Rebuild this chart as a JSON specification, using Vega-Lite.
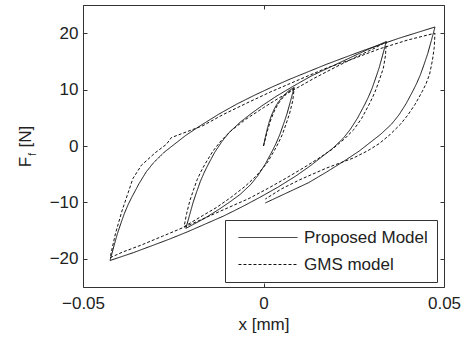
{
 "$schema": "https://vega.github.io/schema/vega-lite/v6.json",
 "width": 361, "height": 282,
 "autosize": "none",
 "padding": {"left": 83, "top": 5, "right": 23, "bottom": 53},
 "config": {
   "font": "Liberation Sans",
   "view": {"stroke": "#333", "strokeWidth": 1},
   "axis": {"grid": false, "domain": false, "tickSize": -4, "tickColor": "#333", "labelFlush": false, "labelOverlap": false, "labelFont": "Liberation Sans", "labelFontSize": 17, "labelColor": "#222", "titleFont": "Liberation Sans", "titleFontSize": 17, "titleFontWeight": "normal", "titleColor": "#222"}
 },
 "data": {"values": [
  {"m":"Proposed Model","i":0,"x":0,"y":0},
  {"m":"Proposed Model","i":1,"x":0.0005,"y":1.5},
  {"m":"Proposed Model","i":2,"x":0.001,"y":2.9},
  {"m":"Proposed Model","i":3,"x":0.0015,"y":4.1},
  {"m":"Proposed Model","i":4,"x":0.002,"y":5.1},
  {"m":"Proposed Model","i":5,"x":0.003,"y":6.6},
  {"m":"Proposed Model","i":6,"x":0.004,"y":7.7},
  {"m":"Proposed Model","i":7,"x":0.005,"y":8.5},
  {"m":"Proposed Model","i":8,"x":0.006,"y":9.2},
  {"m":"Proposed Model","i":9,"x":0.007,"y":9.8},
  {"m":"Proposed Model","i":10,"x":0.0085,"y":10.4},
  {"m":"Proposed Model","i":11,"x":0.0075,"y":8.0},
  {"m":"Proposed Model","i":12,"x":0.0065,"y":5.7},
  {"m":"Proposed Model","i":13,"x":0.0055,"y":3.8},
  {"m":"Proposed Model","i":14,"x":0.0045,"y":2.0},
  {"m":"Proposed Model","i":15,"x":0.0035,"y":0.5},
  {"m":"Proposed Model","i":16,"x":0.0025,"y":-0.8},
  {"m":"Proposed Model","i":17,"x":0.0005,"y":-3.2},
  {"m":"Proposed Model","i":18,"x":-0.0015,"y":-5.2},
  {"m":"Proposed Model","i":19,"x":-0.0035,"y":-6.8},
  {"m":"Proposed Model","i":20,"x":-0.0065,"y":-8.6},
  {"m":"Proposed Model","i":21,"x":-0.0095,"y":-10.0},
  {"m":"Proposed Model","i":22,"x":-0.0125,"y":-11.3},
  {"m":"Proposed Model","i":23,"x":-0.0165,"y":-12.9},
  {"m":"Proposed Model","i":24,"x":-0.0215,"y":-14.6},
  {"m":"Proposed Model","i":25,"x":-0.0205,"y":-12.3},
  {"m":"Proposed Model","i":26,"x":-0.0195,"y":-10.0},
  {"m":"Proposed Model","i":27,"x":-0.0185,"y":-8.1},
  {"m":"Proposed Model","i":28,"x":-0.0175,"y":-6.3},
  {"m":"Proposed Model","i":29,"x":-0.0165,"y":-4.8},
  {"m":"Proposed Model","i":30,"x":-0.0155,"y":-3.5},
  {"m":"Proposed Model","i":31,"x":-0.0135,"y":-1.1},
  {"m":"Proposed Model","i":32,"x":-0.0115,"y":0.8},
  {"m":"Proposed Model","i":33,"x":-0.0095,"y":2.4},
  {"m":"Proposed Model","i":34,"x":-0.0065,"y":4.2},
  {"m":"Proposed Model","i":35,"x":-0.0035,"y":5.7},
  {"m":"Proposed Model","i":36,"x":-0.0005,"y":7.1},
  {"m":"Proposed Model","i":37,"x":0.0035,"y":8.8},
  {"m":"Proposed Model","i":38,"x":0.0085,"y":10.7},
  {"m":"Proposed Model","i":39,"x":0.0135,"y":12.5},
  {"m":"Proposed Model","i":40,"x":0.0185,"y":14.0},
  {"m":"Proposed Model","i":41,"x":0.0235,"y":15.5},
  {"m":"Proposed Model","i":42,"x":0.0285,"y":17.0},
  {"m":"Proposed Model","i":43,"x":0.034,"y":18.5},
  {"m":"Proposed Model","i":44,"x":0.033,"y":16.1},
  {"m":"Proposed Model","i":45,"x":0.032,"y":13.8},
  {"m":"Proposed Model","i":46,"x":0.031,"y":11.9},
  {"m":"Proposed Model","i":47,"x":0.030,"y":10.1},
  {"m":"Proposed Model","i":48,"x":0.029,"y":8.6},
  {"m":"Proposed Model","i":49,"x":0.028,"y":7.3},
  {"m":"Proposed Model","i":50,"x":0.026,"y":4.9},
  {"m":"Proposed Model","i":51,"x":0.024,"y":2.9},
  {"m":"Proposed Model","i":52,"x":0.022,"y":1.3},
  {"m":"Proposed Model","i":53,"x":0.019,"y":-0.5},
  {"m":"Proposed Model","i":54,"x":0.016,"y":-2.0},
  {"m":"Proposed Model","i":55,"x":0.013,"y":-3.5},
  {"m":"Proposed Model","i":56,"x":0.009,"y":-5.3},
  {"m":"Proposed Model","i":57,"x":0.004,"y":-7.3},
  {"m":"Proposed Model","i":58,"x":-0.001,"y":-9.1},
  {"m":"Proposed Model","i":59,"x":-0.006,"y":-10.8},
  {"m":"Proposed Model","i":60,"x":-0.011,"y":-12.4},
  {"m":"Proposed Model","i":61,"x":-0.016,"y":-13.8},
  {"m":"Proposed Model","i":62,"x":-0.021,"y":-15.2},
  {"m":"Proposed Model","i":63,"x":-0.026,"y":-16.5},
  {"m":"Proposed Model","i":64,"x":-0.031,"y":-17.7},
  {"m":"Proposed Model","i":65,"x":-0.036,"y":-18.9},
  {"m":"Proposed Model","i":66,"x":-0.0425,"y":-20.3},
  {"m":"Proposed Model","i":67,"x":-0.0415,"y":-17.9},
  {"m":"Proposed Model","i":68,"x":-0.0405,"y":-15.6},
  {"m":"Proposed Model","i":69,"x":-0.0395,"y":-13.7},
  {"m":"Proposed Model","i":70,"x":-0.0385,"y":-11.9},
  {"m":"Proposed Model","i":71,"x":-0.0375,"y":-10.4},
  {"m":"Proposed Model","i":72,"x":-0.0365,"y":-9.1},
  {"m":"Proposed Model","i":73,"x":-0.0345,"y":-6.7},
  {"m":"Proposed Model","i":74,"x":-0.0325,"y":-4.6},
  {"m":"Proposed Model","i":75,"x":-0.0305,"y":-3.0},
  {"m":"Proposed Model","i":76,"x":-0.0275,"y":-1.1},
  {"m":"Proposed Model","i":77,"x":-0.0245,"y":0.4},
  {"m":"Proposed Model","i":78,"x":-0.0215,"y":1.9},
  {"m":"Proposed Model","i":79,"x":-0.0175,"y":3.6},
  {"m":"Proposed Model","i":80,"x":-0.0125,"y":5.6},
  {"m":"Proposed Model","i":81,"x":-0.0075,"y":7.4},
  {"m":"Proposed Model","i":82,"x":-0.0025,"y":9.0},
  {"m":"Proposed Model","i":83,"x":0.0025,"y":10.5},
  {"m":"Proposed Model","i":84,"x":0.0075,"y":11.9},
  {"m":"Proposed Model","i":85,"x":0.0125,"y":13.2},
  {"m":"Proposed Model","i":86,"x":0.0175,"y":14.5},
  {"m":"Proposed Model","i":87,"x":0.0225,"y":15.7},
  {"m":"Proposed Model","i":88,"x":0.0275,"y":16.9},
  {"m":"Proposed Model","i":89,"x":0.0325,"y":18.0},
  {"m":"Proposed Model","i":90,"x":0.0375,"y":19.1},
  {"m":"Proposed Model","i":91,"x":0.0425,"y":20.1},
  {"m":"Proposed Model","i":92,"x":0.0475,"y":21.1},
  {"m":"Proposed Model","i":93,"x":0.0465,"y":18.7},
  {"m":"Proposed Model","i":94,"x":0.0455,"y":16.4},
  {"m":"Proposed Model","i":95,"x":0.0445,"y":14.5},
  {"m":"Proposed Model","i":96,"x":0.0435,"y":12.7},
  {"m":"Proposed Model","i":97,"x":0.0425,"y":11.2},
  {"m":"Proposed Model","i":98,"x":0.0415,"y":9.9},
  {"m":"Proposed Model","i":99,"x":0.0395,"y":7.5},
  {"m":"Proposed Model","i":100,"x":0.0375,"y":5.5},
  {"m":"Proposed Model","i":101,"x":0.0355,"y":3.9},
  {"m":"Proposed Model","i":102,"x":0.0325,"y":2.1},
  {"m":"Proposed Model","i":103,"x":0.0295,"y":0.6},
  {"m":"Proposed Model","i":104,"x":0.0265,"y":-0.9},
  {"m":"Proposed Model","i":105,"x":0.0225,"y":-2.6},
  {"m":"Proposed Model","i":106,"x":0.0175,"y":-4.6},
  {"m":"Proposed Model","i":107,"x":0.0125,"y":-6.5},
  {"m":"Proposed Model","i":108,"x":0.0075,"y":-8.0},
  {"m":"Proposed Model","i":109,"x":0.0025,"y":-9.5},
  {"m":"Proposed Model","i":110,"x":0.0005,"y":-10.1},
  {"m":"GMS model","i":0,"x":0,"y":0},
  {"m":"GMS model","i":1,"x":0.001,"y":2.5},
  {"m":"GMS model","i":2,"x":0.002,"y":4.6},
  {"m":"GMS model","i":3,"x":0.003,"y":6.2},
  {"m":"GMS model","i":4,"x":0.004,"y":7.4},
  {"m":"GMS model","i":5,"x":0.005,"y":8.3},
  {"m":"GMS model","i":6,"x":0.006,"y":9.0},
  {"m":"GMS model","i":7,"x":0.007,"y":9.6},
  {"m":"GMS model","i":8,"x":0.0085,"y":10.2},
  {"m":"GMS model","i":9,"x":0.0081,"y":8.0},
  {"m":"GMS model","i":10,"x":0.0072,"y":5.7},
  {"m":"GMS model","i":11,"x":0.0062,"y":3.8},
  {"m":"GMS model","i":12,"x":0.0052,"y":2.0},
  {"m":"GMS model","i":13,"x":0.0041,"y":0.5},
  {"m":"GMS model","i":14,"x":0.003,"y":-0.8},
  {"m":"GMS model","i":15,"x":0.001,"y":-3.0},
  {"m":"GMS model","i":16,"x":-0.002,"y":-5.3},
  {"m":"GMS model","i":17,"x":-0.005,"y":-7.1},
  {"m":"GMS model","i":18,"x":-0.009,"y":-9.1},
  {"m":"GMS model","i":19,"x":-0.013,"y":-10.9},
  {"m":"GMS model","i":20,"x":-0.017,"y":-12.4},
  {"m":"GMS model","i":21,"x":-0.022,"y":-14.3},
  {"m":"GMS model","i":22,"x":-0.0213,"y":-12.0},
  {"m":"GMS model","i":23,"x":-0.0204,"y":-9.7},
  {"m":"GMS model","i":24,"x":-0.0194,"y":-7.8},
  {"m":"GMS model","i":25,"x":-0.0184,"y":-6.0},
  {"m":"GMS model","i":26,"x":-0.0173,"y":-4.5},
  {"m":"GMS model","i":27,"x":-0.0162,"y":-3.2},
  {"m":"GMS model","i":28,"x":-0.014,"y":-0.9},
  {"m":"GMS model","i":29,"x":-0.0118,"y":0.9},
  {"m":"GMS model","i":30,"x":-0.009,"y":2.7},
  {"m":"GMS model","i":31,"x":-0.005,"y":4.7},
  {"m":"GMS model","i":32,"x":0.0,"y":6.8},
  {"m":"GMS model","i":33,"x":0.0045,"y":8.6},
  {"m":"GMS model","i":34,"x":0.0085,"y":10.0},
  {"m":"GMS model","i":35,"x":0.014,"y":12.0},
  {"m":"GMS model","i":36,"x":0.020,"y":14.0},
  {"m":"GMS model","i":37,"x":0.026,"y":15.9},
  {"m":"GMS model","i":38,"x":0.031,"y":17.4},
  {"m":"GMS model","i":39,"x":0.034,"y":18.5},
  {"m":"GMS model","i":40,"x":0.0338,"y":16.1},
  {"m":"GMS model","i":41,"x":0.0332,"y":13.8},
  {"m":"GMS model","i":42,"x":0.0322,"y":11.9},
  {"m":"GMS model","i":43,"x":0.0312,"y":10.1},
  {"m":"GMS model","i":44,"x":0.0302,"y":8.6},
  {"m":"GMS model","i":45,"x":0.0292,"y":7.3},
  {"m":"GMS model","i":46,"x":0.0272,"y":4.9},
  {"m":"GMS model","i":47,"x":0.025,"y":2.9},
  {"m":"GMS model","i":48,"x":0.0225,"y":1.3},
  {"m":"GMS model","i":49,"x":0.019,"y":-0.6},
  {"m":"GMS model","i":50,"x":0.015,"y":-2.3},
  {"m":"GMS model","i":51,"x":0.011,"y":-3.9},
  {"m":"GMS model","i":52,"x":0.006,"y":-5.8},
  {"m":"GMS model","i":53,"x":0.001,"y":-7.6},
  {"m":"GMS model","i":54,"x":-0.004,"y":-9.3},
  {"m":"GMS model","i":55,"x":-0.010,"y":-11.0},
  {"m":"GMS model","i":56,"x":-0.016,"y":-12.7},
  {"m":"GMS model","i":57,"x":-0.022,"y":-14.4},
  {"m":"GMS model","i":58,"x":-0.028,"y":-16.0},
  {"m":"GMS model","i":59,"x":-0.034,"y":-17.6},
  {"m":"GMS model","i":60,"x":-0.039,"y":-18.8},
  {"m":"GMS model","i":61,"x":-0.0425,"y":-19.8},
  {"m":"GMS model","i":62,"x":-0.041,"y":-15.5},
  {"m":"GMS model","i":63,"x":-0.0392,"y":-11.5},
  {"m":"GMS model","i":64,"x":-0.0375,"y":-8.3},
  {"m":"GMS model","i":65,"x":-0.0362,"y":-5.8},
  {"m":"GMS model","i":66,"x":-0.0338,"y":-3.4},
  {"m":"GMS model","i":67,"x":-0.030,"y":-1.2},
  {"m":"GMS model","i":68,"x":-0.0269,"y":0.3},
  {"m":"GMS model","i":69,"x":-0.0255,"y":1.5},
  {"m":"GMS model","i":70,"x":-0.0168,"y":3.6},
  {"m":"GMS model","i":71,"x":-0.0111,"y":5.6},
  {"m":"GMS model","i":72,"x":-0.004,"y":7.8},
  {"m":"GMS model","i":73,"x":0.002,"y":9.6},
  {"m":"GMS model","i":74,"x":0.010,"y":11.8},
  {"m":"GMS model","i":75,"x":0.017,"y":13.7},
  {"m":"GMS model","i":76,"x":0.025,"y":15.5},
  {"m":"GMS model","i":77,"x":0.032,"y":17.2},
  {"m":"GMS model","i":78,"x":0.040,"y":18.8},
  {"m":"GMS model","i":79,"x":0.0475,"y":20.0},
  {"m":"GMS model","i":80,"x":0.0473,"y":17.5},
  {"m":"GMS model","i":81,"x":0.0468,"y":15.2},
  {"m":"GMS model","i":82,"x":0.046,"y":12.7},
  {"m":"GMS model","i":83,"x":0.045,"y":11.0},
  {"m":"GMS model","i":84,"x":0.044,"y":9.7},
  {"m":"GMS model","i":85,"x":0.042,"y":7.4},
  {"m":"GMS model","i":86,"x":0.040,"y":5.5},
  {"m":"GMS model","i":87,"x":0.038,"y":3.9},
  {"m":"GMS model","i":88,"x":0.035,"y":2.0},
  {"m":"GMS model","i":89,"x":0.032,"y":0.4},
  {"m":"GMS model","i":90,"x":0.029,"y":-0.8},
  {"m":"GMS model","i":91,"x":0.025,"y":-2.1},
  {"m":"GMS model","i":92,"x":0.0175,"y":-3.9},
  {"m":"GMS model","i":93,"x":0.010,"y":-6.0},
  {"m":"GMS model","i":94,"x":0.005,"y":-7.6},
  {"m":"GMS model","i":95,"x":0.0005,"y":-9.4}
 ]},
 "layer": [
  {
   "mark": {"type": "line", "color": "#111", "strokeWidth": 1},
   "encoding": {
    "x": {"field": "x", "type": "quantitative", "scale": {"domain": [-0.05, 0.05], "nice": false, "zero": false},
          "axis": {"orient": "bottom", "values": [-0.05, 0, 0.05], "format": "~g", "title": "x [mm]", "labelPadding": 12, "titlePadding": 5}},
    "y": {"field": "y", "type": "quantitative", "scale": {"domain": [-25, 25], "nice": false, "zero": false},
          "axis": {"orient": "left", "values": [-20, -10, 0, 10, 20], "title": "F\u00a0\u00a0[N]", "labelPadding": 9, "titlePadding": 15}},
    "order": {"field": "i", "type": "quantitative"},
    "strokeDash": {"field": "m", "type": "nominal",
       "scale": {"domain": ["Proposed Model", "GMS model"], "range": [[1, 0], [3, 2]]},
       "legend": {"title": null, "orient": "none", "legendX": 142, "legendY": 215, "direction": "vertical",
                  "symbolType": "M-0.67,0H9.17", "symbolSize": 144, "symbolStrokeWidth": 1, "symbolStrokeColor": "#111", "symbolFillColor": "transparent",
                  "labelFontSize": 17, "labelFont": "Liberation Sans", "labelColor": "#222", "labelOffset": 53, "labelLimit": 300,
                  "padding": 9, "rowPadding": 9, "fillColor": "white", "strokeColor": "#333", "cornerRadius": 0}}
   }
  },
  {
   "mark": {"type": "line", "strokeOpacity": 0},
   "encoding": {
    "x": {"field": "x", "type": "quantitative", "scale": {"domain": [-0.05, 0.05], "nice": false, "zero": false},
          "axis": {"orient": "top", "values": [-0.05, 0, 0.05], "labels": false, "title": null}},
    "y": {"field": "y", "type": "quantitative", "scale": {"domain": [-25, 25], "nice": false, "zero": false},
          "axis": {"orient": "right", "values": [-20, -10, 0, 10, 20], "labels": false, "title": null}},
    "detail": {"field": "m"}
   }
  },
  {
   "data": {"values": [{}]},
   "mark": {"type": "text", "text": "f", "fontSize": 10, "angle": 270, "align": "center", "baseline": "alphabetic", "color": "#222", "font": "Liberation Sans"},
   "encoding": {
    "x": {"datum": -0.063, "type": "quantitative", "scale": {"domain": [-0.05, 0.05], "nice": false, "zero": false}, "axis": null},
    "y": {"datum": -1.5, "type": "quantitative", "scale": {"domain": [-25, 25], "nice": false, "zero": false}, "axis": null}
   }
  }
 ],
 "resolve": {"axis": {"x": "independent", "y": "independent"}}
}
